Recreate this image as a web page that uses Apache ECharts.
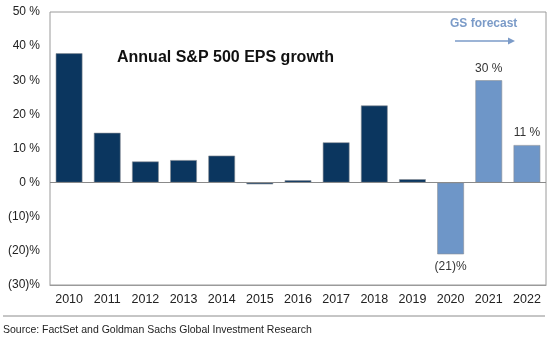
<!DOCTYPE html>
<html>
<head>
<meta charset="utf-8">
<script src="https://cdn.jsdelivr.net/npm/echarts@6/dist/echarts.min.js"></script>
<style>
  html, body { margin: 0; padding: 0; background: #fff; }
  #chart { width: 557px; height: 340px; }
</style>
</head>
<body>
<div id="chart"></div>
<script>
// Annual S&P 500 EPS growth, actuals and GS forecast years
const years = ['2010','2011','2012','2013','2014','2015','2016','2017','2018','2019','2020','2021','2022'];
const epsGrowth = [37.9, 14.6, 6.2, 6.6, 7.9, -0.5, 0.7, 11.8, 22.6, 1.0, -21, 30, 11];
// years whose value carries a data label / lighter colour
const labelledYears = ['2020', '2021', '2022'];
const forecastYears = ['2020', '2021', '2022'];
const yTicks = { min: -30, max: 50, step: 10 };

const FONT = 'Liberation Sans, Arial, sans-serif';
const NAVY = '#0b365f';
const LIGHT = '#6e96c8';

function pct(v) {
  return v < 0 ? '(' + Math.abs(v) + ')%' : v + ' %';
}

const barData = years.map((y, i) => {
  const v = epsGrowth[i];
  const item = {
    value: v,
    itemStyle: { color: forecastYears.includes(y) ? LIGHT : NAVY }
  };
  if (labelledYears.includes(y)) {
    item.label = {
      show: true,
      position: v < 0 ? 'bottom' : 'top',
      distance: 6,
      formatter: p => pct(Math.round(p.value)),
      color: '#333',
      fontSize: 12,
      fontFamily: FONT
    };
  }
  return item;
});

const chart = echarts.init(document.getElementById('chart'), null, { renderer: 'canvas' });
chart.setOption({
  animation: false,
  backgroundColor: '#fff',
  grid: {
    left: 50, right: 11, top: 12, bottom: 55,
    show: true, borderColor: '#9a9a9a', borderWidth: 1
  },
  xAxis: {
    type: 'category',
    data: years,
    axisLine: { onZero: false, lineStyle: { color: '#9a9a9a' } },
    axisTick: { show: false },
    axisLabel: { color: '#222', fontSize: 12.5, fontFamily: FONT, margin: 8 }
  },
  yAxis: {
    type: 'value',
    min: yTicks.min, max: yTicks.max, interval: yTicks.step,
    axisLine: { show: false },
    axisTick: { show: false },
    splitLine: { show: false },
    axisLabel: {
      color: '#222', fontSize: 12, fontFamily: FONT, margin: 10,
      formatter: v => pct(v)
    }
  },
  series: [{
    type: 'bar',
    data: barData,
    barWidth: '70%',
    itemStyle: { borderColor: '#8a8f96', borderWidth: 0.6 },
    markLine: {
      silent: true,
      symbol: 'none',
      label: { show: false },
      lineStyle: { color: '#8a8a8a', width: 1, type: 'solid' },
      data: [{ yAxis: 0 }]
    }
  }],
  graphic: [
    {
      type: 'text', left: 117, top: 50,
      style: { text: 'Annual S&P 500 EPS growth', font: 'bold 16px ' + FONT, fill: '#111' }
    },
    {
      type: 'text', left: 450, top: 18,
      style: { text: 'GS forecast', font: 'bold 12px ' + FONT, fill: '#7b9bc8' }
    },
    {
      type: 'line',
      shape: { x1: 455, y1: 41, x2: 510, y2: 41 },
      style: { stroke: '#7b9bc8', lineWidth: 1.3 }
    },
    {
      type: 'polygon',
      shape: { points: [[508, 37.5], [515, 41], [508, 44.5]] },
      style: { fill: '#7b9bc8' }
    },
    {
      type: 'line',
      shape: { x1: 3, y1: 316, x2: 545, y2: 316 },
      style: { stroke: '#8c8c8c', lineWidth: 1 }
    },
    {
      type: 'text', left: 3, top: 325,
      style: { text: 'Source: FactSet and Goldman Sachs Global Investment Research', font: '10.5px ' + FONT, fill: '#222' }
    }
  ]
});
</script>
</body>
</html>
